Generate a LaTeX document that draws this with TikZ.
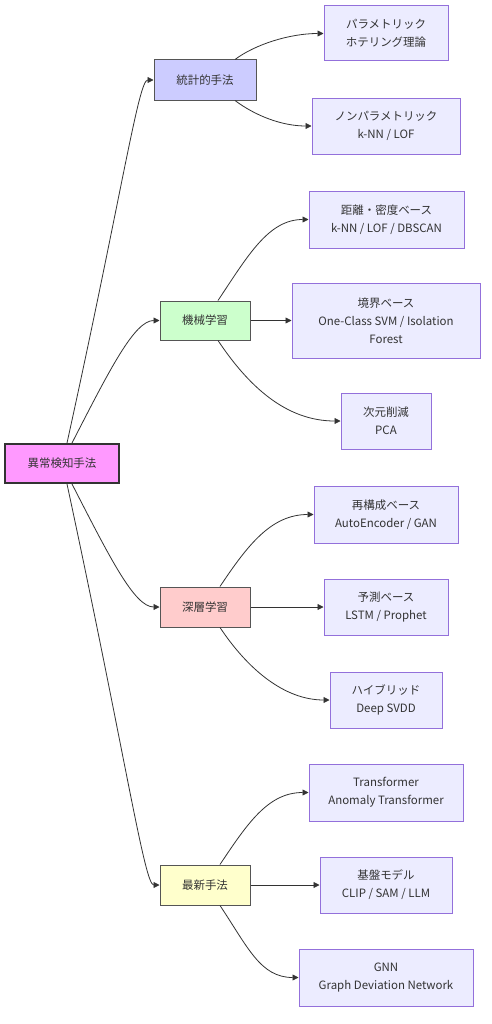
\documentclass[tikz,border=0pt]{standalone}
\usepackage{fontspec}
\setmainfont{Noto Sans CJK JP}
\usetikzlibrary{arrows.meta,calc}
\definecolor{txt}{HTML}{333333}
\definecolor{rootfill}{HTML}{FF99FF}
\definecolor{statfill}{HTML}{CCCCFF}
\definecolor{mlfill}{HTML}{CCFFCC}
\definecolor{dlfill}{HTML}{FFCCCC}
\definecolor{newfill}{HTML}{FFFFCC}
\definecolor{leaffill}{HTML}{ECECFF}
\definecolor{leafdraw}{HTML}{9370DB}
\definecolor{catdraw}{HTML}{555555}
\tikzset{
  box/.style={draw, rectangle, inner sep=0pt, align=center, text=txt,
    font=\fontsize{8.6pt}{13.5pt}\selectfont, line width=0.75pt},
  rootbox/.style={box, fill=rootfill, draw=txt, line width=1.5pt},
  catbox/.style={box, draw=catdraw},
  leaf/.style={box, fill=leaffill, draw=leafdraw},
  edge/.style={draw=txt, line width=0.6pt, -{Triangle[length=4.5pt,width=4.5pt]}}
}
\begin{document}
\begin{tikzpicture}[x=0.75pt,y=-0.75pt]
\useasboundingbox[fill=white] (0,0) rectangle (492,1024);
% root
\node[rootbox, minimum width=85.5pt, minimum height=29.25pt] (root) at (62,463.5) {異常検知手法};
% categories
\node[catbox, fill=statfill, minimum width=76.5pt, minimum height=30pt] (stat) at (205,80) {統計的手法};
\node[catbox, fill=mlfill, minimum width=67.5pt, minimum height=29.25pt] (ml) at (205,320.5) {機械学習};
\node[catbox, fill=dlfill, minimum width=67.5pt, minimum height=30pt] (dl) at (205,607) {深層学習};
\node[catbox, fill=newfill, minimum width=67.5pt, minimum height=30pt] (new) at (205,885) {最新手法};
% leaves
\node[leaf, minimum width=93pt, minimum height=41.25pt] (p1) at (386,33.5) {パラメトリック\\ホテリング理論};
\node[leaf, minimum width=111pt, minimum height=42pt] (p2) at (386,126) {ノンパラメトリック\\k-NN / LOF};
\node[leaf, minimum width=116.25pt, minimum height=42.75pt] (m1) at (386.5,219.5) {距離・密度ベース\\k-NN / LOF / DBSCAN};
\node[leaf, minimum width=141pt, minimum height=56.25pt] (m2) at (386,320.5) {境界ベース\\One-Class SVM / Isolation\\Forest};
\node[leaf, minimum width=67.5pt, minimum height=42pt] (m3) at (386,421) {次元削減\\PCA};
\node[leaf, minimum width=108pt, minimum height=42.75pt] (d1) at (386,514.5) {再構成ベース\\AutoEncoder / GAN};
\node[leaf, minimum width=93pt, minimum height=42pt] (d2) at (386,607) {予測ベース\\LSTM / Prophet};
\node[leaf, minimum width=84pt, minimum height=42pt] (d3) at (386,700) {ハイブリッド\\Deep SVDD};
\node[leaf, minimum width=115.5pt, minimum height=42.75pt] (n1) at (386,792.5) {Transformer\\Anomaly Transformer};
\node[leaf, minimum width=99pt, minimum height=42pt] (n2) at (386,885) {基盤モデル\\CLIP / SAM / LLM};
\node[leaf, minimum width=130.5pt, minimum height=42.75pt] (n3) at (386,977.5) {GNN\\Graph Deviation Network};
% root edges
\draw[edge] ($(root.north)+(5,0)$) .. controls +(55,-250) and +(-15,0) .. (stat.west);
\draw[edge] ($(root.north)+(10,0)$) .. controls +(38,-74) and +(-25,0) .. (ml.west);
\draw[edge] ($(root.south)+(10,0)$) .. controls +(38,74) and +(-25,0) .. (dl.west);
\draw[edge] ($(root.south)+(5,0)$) .. controls +(58,270) and +(-15,0) .. (new.west);
% stat edges
\draw[edge] ($(stat.north)+(30,0)$) .. controls +(20,-15) and +(-34,0) .. (p1.west);
\draw[edge] ($(stat.south)+(30,0)$) .. controls +(20,15) and +(-30,0) .. (p2.west);
% ml edges
\draw[edge] ($(ml.north)+(13,0)$) .. controls +(30,-45) and +(-40,0) .. (m1.west);
\draw[edge] (ml.east) -- (m2.west);
\draw[edge] ($(ml.south)+(13,0)$) .. controls +(30,45) and +(-55,0) .. (m3.west);
% dl edges
\draw[edge] ($(dl.north)+(15,0)$) .. controls +(28,-42) and +(-42,0) .. (d1.west);
\draw[edge] (dl.east) -- (d2.west);
\draw[edge] ($(dl.south)+(15,0)$) .. controls +(28,42) and +(-45,0) .. (d3.west);
% new edges
\draw[edge] ($(new.north)+(15,0)$) .. controls +(28,-42) and +(-40,0) .. (n1.west);
\draw[edge] (new.east) -- (n2.west);
\draw[edge] ($(new.south)+(15,0)$) .. controls +(28,42) and +(-38,0) .. (n3.west);
\end{tikzpicture}
\end{document}
